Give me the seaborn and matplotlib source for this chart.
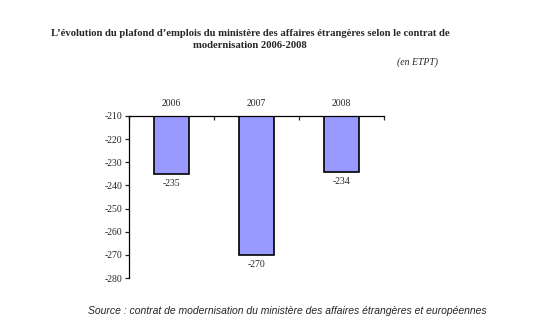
import matplotlib
matplotlib.use("Agg")
import matplotlib.pyplot as plt
import seaborn as sns
import pandas as pd

years = ["2006", "2007", "2008"]
values = [-235, -270, -234]
yticks = [-210, -220, -230, -240, -250, -260, -270, -280]

sns.set_style("white")
plt.rcParams['font.family'] = ['Liberation Serif', 'DejaVu Serif']

df = pd.DataFrame({"annee": years, "valeur": values})

fig = plt.figure(figsize=(5.46, 3.29), dpi=100)
ax = fig.add_axes([129/546, 51/329, 255/546, 162/329])

sns.barplot(data=df, x="annee", y="valeur", color="#9999FF", saturation=1,
            edgecolor="black", linewidth=1.2, width=0.41, ax=ax)

ax.set_ylim(-280, -210)
ax.set_xlim(-0.5, 2.5)
ax.set_yticks(yticks)
ax.set_yticklabels([str(v) for v in yticks], fontsize=7)
ax.set_xlabel("")
ax.set_ylabel("")

ax.xaxis.tick_top()
ax.tick_params(axis='x', which='major', length=0, labelsize=7, pad=6)
ax.set_xticks([-0.5, 0.5, 1.5, 2.5], minor=True)
ax.tick_params(axis='x', which='minor', direction='in', length=3, width=0.9, top=True, bottom=False)
ax.tick_params(axis='y', direction='out', length=3, width=0.9, left=True, pad=2)

for s in ["right", "bottom"]:
    ax.spines[s].set_visible(False)
for s in ["top", "left"]:
    ax.spines[s].set_visible(True)
    ax.spines[s].set_color("black")
    ax.spines[s].set_linewidth(0.9)

for i, v in enumerate(values):
    ax.annotate(str(v), (i, v), xytext=(0, -4), textcoords="offset points",
                ha="center", va="top", fontsize=7)

fig.text(250/546, 1 - 33/329, "L\u2019évolution du plafond d\u2019emplois du ministère des affaires étrangères selon le contrat de",
         ha="center", va="center", fontsize=7.65, fontweight="bold")
fig.text(250/546, 1 - 45/329, "modernisation 2006-2008",
         ha="center", va="center", fontsize=7.65, fontweight="bold")
fig.text(438/546, 1 - 62/329, "(en ETPT)", ha="right", va="center", fontsize=7, style="italic")
fig.text(287/546, 1 - 311/329,
         "Source : contrat de modernisation du ministère des affaires étrangères et européennes",
         ha="center", va="center", fontsize=7.5, style="italic",
         family=["Liberation Sans", "DejaVu Sans"])

fig.savefig("out.png", dpi=100)
